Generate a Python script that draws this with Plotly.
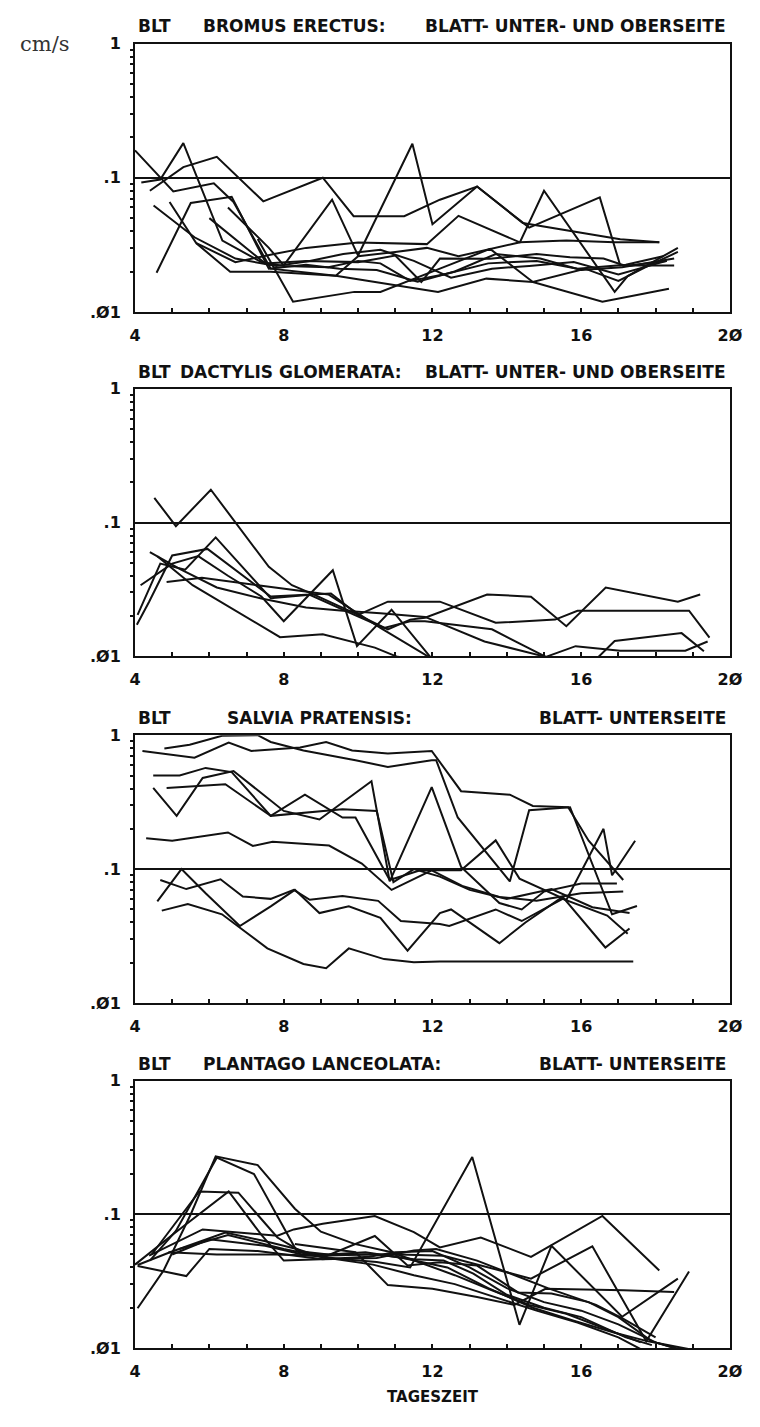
import plotly.graph_objects as go

W, H = 760, 1427

# ---- Bromus erectus (leaf under- and upper side) ----
bromus_t = [
    [4.0, 5.03, 6.12, 6.65, 7.65, 9.4, 11.6, 12.15, 13.45, 14.7, 16.57, 18.36],
    [4.17, 4.68, 5.3, 6.35, 7.4, 8.0, 9.2, 10.0, 10.6, 11.4, 12.3, 13.5, 14.8, 15.9, 17.2, 18.2],
    [4.4, 5.3, 6.2, 7.45, 9.05, 9.88, 11.24, 12.2, 13.2, 14.43, 17.05, 18.1],
    [4.58, 5.5, 6.6, 7.6, 8.6, 9.5, 10.5, 11.6, 12.6, 13.7, 14.9, 16.0, 17.1, 18.5],
    [4.93, 5.65, 6.56, 7.65, 9.4, 10.0, 11.0, 11.85, 12.7, 14.35, 15.0, 16.9, 17.25, 18.6],
    [6.0, 7.5, 8.6, 10.0, 11.0, 11.7, 12.2, 13.55, 14.8, 15.7, 16.6, 17.2, 18.3],
    [5.65, 6.7, 7.74, 8.6, 10.0, 11.85, 12.7, 14.35, 15.6, 16.9, 18.1],
    [6.5, 7.6, 8.0, 9.3, 10.0, 11.46, 12.0, 13.2, 14.6, 16.5, 17.05, 18.5],
    [7.3, 8.25, 9.9, 10.6, 12.2, 13.55, 14.7, 16.1, 17.0, 17.8, 18.6],
    [4.5, 5.6, 6.7, 7.8, 8.7, 9.6, 10.6, 11.5, 12.5, 13.6, 14.6, 15.8, 17.0, 18.3],
]
bromus_v = [
    [0.16, 0.079, 0.091, 0.066, 0.021, 0.0186, 0.0149, 0.0141, 0.0177, 0.0167, 0.0119, 0.0149],
    [0.092, 0.097, 0.181, 0.034, 0.0235, 0.022, 0.0215, 0.024, 0.023, 0.017, 0.019, 0.023, 0.024, 0.021, 0.0225, 0.026],
    [0.08, 0.12, 0.143, 0.0667, 0.1, 0.0517, 0.0517, 0.0686, 0.086, 0.046, 0.0348, 0.033],
    [0.0196, 0.0648, 0.072, 0.021, 0.0225, 0.021, 0.0205, 0.0168, 0.02, 0.027, 0.025, 0.0205, 0.0215, 0.025],
    [0.066, 0.0325, 0.0199, 0.0199, 0.0186, 0.026, 0.028, 0.03, 0.026, 0.033, 0.08, 0.0141, 0.0185, 0.03],
    [0.05, 0.023, 0.024, 0.0235, 0.0263, 0.0167, 0.025, 0.0249, 0.027, 0.0255, 0.025, 0.022, 0.024],
    [0.0325, 0.0235, 0.027, 0.030, 0.0329, 0.032, 0.052, 0.033, 0.034, 0.033, 0.033],
    [0.06, 0.03, 0.0222, 0.0686, 0.0263, 0.179, 0.045, 0.086, 0.0425, 0.0713, 0.0222, 0.0222],
    [0.035, 0.0119, 0.0141, 0.0141, 0.021, 0.0295, 0.0167, 0.021, 0.017, 0.022, 0.028],
    [0.062, 0.036, 0.025, 0.022, 0.024, 0.027, 0.029, 0.024, 0.018, 0.021, 0.022, 0.0235, 0.019, 0.024],
]

# ---- Dactylis glomerata (leaf under- and upper side) ----
dactylis_t = [
    [4.52, 5.1, 6.04, 7.6, 8.22, 8.8, 10.0, 10.8, 11.4, 11.8, 13.47, 14.65, 15.6, 16.66, 18.6, 19.2],
    [4.05, 4.38, 5.0, 5.95, 7.65, 9.27, 10.0, 10.8, 12.2, 13.7, 15.3, 15.9, 18.9, 19.45],
    [4.15, 5.0, 5.7, 6.5, 7.4, 8.0, 9.32, 9.97, 10.9, 11.94],
    [4.07, 4.68, 5.35, 6.17, 7.65, 8.7, 9.9, 10.7, 11.4, 11.8, 13.6, 15.05, 15.85, 17.05, 18.8, 19.4],
    [4.6, 5.55, 7.9, 9.05, 10.45, 11.06, 13.0, 16.45, 16.9, 18.7, 19.3],
    [4.85, 5.8, 7.3, 9.2, 10.6, 11.9, 12.3],
    [4.4, 5.2, 6.2, 7.4, 8.6, 9.6, 10.6, 11.8, 13.4, 15.05],
]
dactylis_v = [
    [0.153, 0.094, 0.176, 0.0466, 0.034, 0.029, 0.0204, 0.0159, 0.0188, 0.0194, 0.029, 0.0279, 0.0168, 0.0327, 0.0256, 0.029],
    [0.0172, 0.0256, 0.0567, 0.0635, 0.028, 0.0295, 0.0204, 0.0256, 0.0256, 0.0178, 0.0188, 0.0219, 0.0219, 0.0138],
    [0.034, 0.0493, 0.0561, 0.04, 0.028, 0.0183, 0.044, 0.0119, 0.0223, 0.0099],
    [0.0204, 0.0493, 0.0444, 0.0775, 0.0272, 0.0288, 0.0204, 0.0163, 0.0183, 0.0183, 0.0159, 0.0099, 0.0119, 0.011, 0.011, 0.0129],
    [0.056, 0.034, 0.0139, 0.0146, 0.0116, 0.0099, 0.0085, 0.0098, 0.013, 0.0149, 0.0109],
    [0.036, 0.0386, 0.034, 0.029, 0.0163, 0.0099, 0.0088],
    [0.06, 0.045, 0.0327, 0.027, 0.0232, 0.0219, 0.021, 0.0197, 0.0129, 0.0099],
]

# ---- Salvia pratensis (leaf underside) ----
salvia_t = [
    [4.79, 5.47, 6.34, 7.3, 7.65, 8.53, 9.93, 10.8, 11.98, 12.1, 12.68, 14.08, 14.6, 15.7, 16.83, 17.5],
    [4.2, 5.6, 6.52, 7.13, 8.44, 9.14, 9.84, 10.8, 11.98, 12.77, 14.08, 14.7, 15.65, 16.2, 17.13],
    [4.49, 5.2, 5.9, 6.6, 7.65, 8.96, 9.58, 10.5, 10.95, 11.5, 12.2, 13.0, 14.0, 15.2, 16.3, 17.3],
    [4.49, 5.12, 5.82, 6.65, 8.0, 8.96, 10.36, 10.85, 11.98, 12.77, 13.8, 14.4, 15.0, 16.0, 16.96],
    [4.85, 6.43, 7.65, 8.57, 9.58, 9.93, 10.85, 11.67, 12.77, 13.7, 14.34, 15.0, 15.6, 16.6, 16.83, 17.45],
    [4.3, 5.0, 6.5, 7.17, 7.7, 9.22, 10.1, 10.9, 11.98, 12.8, 13.8, 14.8, 16.0, 17.13],
    [4.68, 5.38, 6.3, 6.9, 7.65, 8.27, 8.7, 9.58, 10.54, 11.15, 12.2, 12.45, 13.7, 14.4, 15.5, 16.7, 17.25],
    [4.6, 5.25, 5.9, 6.82, 7.65, 8.3, 8.96, 9.75, 10.6, 11.33, 12.2, 12.5, 13.8, 14.5, 15.5, 16.65, 17.3],
    [4.72, 5.42, 6.34, 6.87, 7.56, 8.53, 9.14, 9.75, 10.7, 11.5, 12.2, 17.4],
]
salvia_v = [
    [0.797, 0.85, 0.99, 1.0, 0.89, 0.77, 0.65, 0.58, 0.65, 0.65, 0.243, 0.081, 0.275, 0.29, 0.046, 0.053],
    [0.763, 0.68, 0.88, 0.763, 0.81, 0.89, 0.77, 0.73, 0.763, 0.382, 0.36, 0.296, 0.29, 0.163, 0.083],
    [0.5, 0.5, 0.57, 0.53, 0.25, 0.272, 0.28, 0.272, 0.08, 0.1, 0.088, 0.07, 0.06, 0.071, 0.052, 0.047],
    [0.404, 0.25, 0.48, 0.54, 0.272, 0.235, 0.453, 0.081, 0.41, 0.104, 0.0558, 0.05, 0.068, 0.078, 0.078],
    [0.404, 0.43, 0.25, 0.36, 0.243, 0.243, 0.083, 0.098, 0.098, 0.164, 0.085, 0.07, 0.059, 0.2, 0.09, 0.163],
    [0.17, 0.163, 0.188, 0.149, 0.16, 0.15, 0.11, 0.07, 0.098, 0.075, 0.062, 0.058, 0.066, 0.068],
    [0.083, 0.071, 0.084, 0.0625, 0.06, 0.07, 0.059, 0.063, 0.058, 0.041, 0.039, 0.0376, 0.05, 0.041, 0.06, 0.045, 0.033],
    [0.0574, 0.1, 0.066, 0.0376, 0.0528, 0.07, 0.047, 0.0528, 0.0433, 0.0246, 0.047, 0.05, 0.028, 0.04, 0.062, 0.026, 0.036],
    [0.049, 0.055, 0.046, 0.0355, 0.0256, 0.0196, 0.0182, 0.0256, 0.0213, 0.0202, 0.0204, 0.0204],
]

# ---- Plantago lanceolata (leaf underside) ----
plantago_t = [
    [4.07, 4.77, 5.5, 6.17, 7.3, 8.3, 9.0, 9.9, 10.9, 11.8, 12.6, 13.6, 14.6, 15.6, 16.6, 17.6],
    [4.4, 5.1, 6.2, 7.2, 8.35, 9.2, 10.2, 11.2, 12.4, 13.5, 14.7, 15.8, 16.9, 17.8, 18.9],
    [4.45, 5.73, 6.78, 7.83, 8.6, 9.5, 10.5, 11.5, 12.3, 13.1, 14.0, 15.0, 16.0, 17.2, 17.9],
    [4.0, 5.0, 6.52, 7.4, 8.0, 9.0, 10.3, 11.0, 12.0, 13.0, 14.0, 15.0, 16.0, 17.0, 18.0, 18.6],
    [4.38, 5.82, 6.78, 7.83, 8.27, 9.05, 10.45, 11.5, 12.2, 13.3, 14.65, 16.57, 18.1],
    [4.07, 4.94, 6.43, 7.48, 8.35, 9.05, 10.45, 11.33, 12.2, 13.2, 14.3, 15.2, 16.2, 17.0, 17.9, 18.8],
    [4.07, 4.68, 5.38, 6.0, 7.3, 9.05, 10.5, 11.5, 12.1, 13.2, 15.1, 16.4, 17.1, 18.0],
    [5.0, 6.0, 7.5, 8.5, 9.6, 10.5, 11.4, 13.07, 14.34, 15.2, 17.1, 18.6],
    [4.9, 6.2, 7.8, 9.0, 10.2, 11.1, 12.3, 13.5, 14.65, 16.3, 17.75, 18.9],
    [8.3, 9.93, 10.8, 12.0, 13.2, 14.2, 15.04, 17.14, 18.5],
    [5.2, 6.5, 8.0, 9.2, 10.4, 11.5, 12.6, 13.7, 14.8, 15.9, 17.0, 17.6],
]
plantago_v = [
    [0.0198, 0.038, 0.1, 0.271, 0.233, 0.11, 0.074, 0.06, 0.052, 0.042, 0.035, 0.027, 0.021, 0.018, 0.014, 0.011],
    [0.045, 0.075, 0.265, 0.2, 0.053, 0.05, 0.052, 0.047, 0.04, 0.028, 0.02, 0.016, 0.013, 0.0112, 0.0098],
    [0.05, 0.148, 0.145, 0.067, 0.05, 0.05, 0.05, 0.046, 0.045, 0.036, 0.025, 0.02, 0.017, 0.012, 0.0105],
    [0.042, 0.07, 0.148, 0.07, 0.045, 0.046, 0.048, 0.052, 0.053, 0.04, 0.028, 0.022, 0.019, 0.015, 0.011, 0.0098],
    [0.049, 0.077, 0.073, 0.069, 0.077, 0.085, 0.097, 0.0735, 0.0565, 0.067, 0.048, 0.097, 0.038],
    [0.0417, 0.052, 0.073, 0.063, 0.055, 0.0475, 0.0687, 0.0413, 0.0437, 0.0413, 0.026, 0.0255, 0.022, 0.017, 0.0112, 0.0095],
    [0.041, 0.038, 0.0345, 0.055, 0.053, 0.046, 0.047, 0.0535, 0.055, 0.045, 0.028, 0.021, 0.0167, 0.012],
    [0.05, 0.065, 0.058, 0.05, 0.046, 0.044, 0.04, 0.268, 0.0149, 0.058, 0.0171, 0.033],
    [0.052, 0.05, 0.05, 0.049, 0.05, 0.05, 0.049, 0.04, 0.033, 0.0575, 0.0112, 0.0373],
    [0.06, 0.052, 0.0295, 0.0277, 0.024, 0.021, 0.0277, 0.027, 0.0262],
    [0.055, 0.07, 0.055, 0.047, 0.042, 0.035, 0.03, 0.024, 0.019, 0.0155, 0.012, 0.0098],
]

# panel headings: (left tag, species, species x position, leaf side)
headings = [
    ("BLT", "BROMUS ERECTUS:", 200, "BLATT- UNTER- UND OBERSEITE"),
    ("BLT", "DACTYLIS GLOMERATA:", 176, "BLATT- UNTER- UND OBERSEITE"),
    ("BLT", "SALVIA PRATENSIS:", 225, "BLATT- UNTERSEITE"),
    ("BLT", "PLANTAGO LANCEOLATA:", 200, "BLATT- UNTERSEITE"),
]

hour_ticks = list(range(4, 21))
hour_labels = ["2Ø" if h == 20 else (str(h) if h % 4 == 0 else "") for h in hour_ticks]
y_ticks = [0.01, 0.1, 1]
y_labels = [".Ø1", ".1", "1"]
minor_y = [m * d for d in (0.01, 0.1) for m in range(2, 10)]

panels = [(bromus_t, bromus_v), (dactylis_t, dactylis_v),
          (salvia_t, salvia_v), (plantago_t, plantago_v)]

# pixel geometry of the four frames (top, bottom) and the shared left/right edges
frames = [(35, 307), (385, 656), (736, 1007.5), (1086, 1357)]
left_px, right_px = 132.3, 742.5
title_y = [17.5, 367.5, 719, 1069]

FONT = "DejaVu Sans"
INK = "#111111"

fig = go.Figure()
layout = dict(
    width=W, height=H, margin=dict(l=0, r=0, t=0, b=0),
    paper_bgcolor="white", plot_bgcolor="white", showlegend=False,
)
annotations = []

for i, ((ts, vs), (top, bot)) in enumerate(zip(panels, frames)):
    n = i + 1
    xa = "x" if n == 1 else f"x{n}"
    ya = "y" if n == 1 else f"y{n}"
    for t, v in zip(ts, vs):
        fig.add_trace(go.Scatter(
            x=t, y=v, xaxis=xa, yaxis=ya, mode="lines",
            line=dict(color=INK, width=2), hoverinfo="skip",
        ))
    layout[f"xaxis{'' if n == 1 else n}"] = dict(
        domain=[left_px / W, right_px / W], range=[4, 20], anchor=ya,
        tickmode="array", tickvals=hour_ticks, ticktext=hour_labels,
        ticks="inside", ticklen=4, tickwidth=1.5, tickcolor=INK,
        showline=True, linewidth=2, linecolor=INK, mirror=True,
        showgrid=False, zeroline=False, ticklabelstandoff=8,
        tickfont=dict(family=FONT, size=16, color=INK, weight="bold"),
    )
    layout[f"yaxis{'' if n == 1 else n}"] = dict(
        domain=[1 - bot / H, 1 - top / H], type="log", range=[-2, 0], anchor=xa,
        tickmode="array", tickvals=y_ticks, ticktext=y_labels, ticks="",
        showline=True, linewidth=2, linecolor=INK, mirror=True,
        showgrid=True, gridcolor=INK, gridwidth=2, zeroline=False,
        ticklabelstandoff=9,
        tickfont=dict(family=FONT, size=16, color=INK, weight="bold"),
        minor=dict(tickmode="array", tickvals=minor_y, ticks="outside",
                   ticklen=3, tickwidth=1.5, tickcolor=INK, showgrid=False),
    )
    blt, species, sx, side = headings[i]
    ty = 1 - title_y[i] / H
    tfont = dict(family=FONT, size=17, color=INK, weight="bold")
    annotations += [
        dict(text=blt, x=133 / W, y=ty, xref="paper", yref="paper",
             xanchor="left", yanchor="middle", showarrow=False, font=tfont),
        dict(text=species, x=sx / W, y=ty, xref="paper", yref="paper",
             xanchor="left", yanchor="middle", showarrow=False, font=tfont),
        dict(text=side, x=741 / W, y=ty, xref="paper", yref="paper",
             xanchor="right", yanchor="middle", showarrow=False, font=tfont),
    ]

annotations += [
    dict(text="cm/s", x=40 / W, y=1 - 35 / H, xref="paper", yref="paper",
         xanchor="center", yanchor="middle", showarrow=False,
         font=dict(family="DejaVu Serif", size=21, color="#333333")),
    dict(text="TAGESZEIT", x=438 / W, y=1 - 1407 / H, xref="paper", yref="paper",
         xanchor="center", yanchor="middle", showarrow=False,
         font=dict(family=FONT, size=15, color=INK, weight="bold")),
]
layout["annotations"] = annotations

fig.update_layout(**layout)
fig.write_html("out.html")
